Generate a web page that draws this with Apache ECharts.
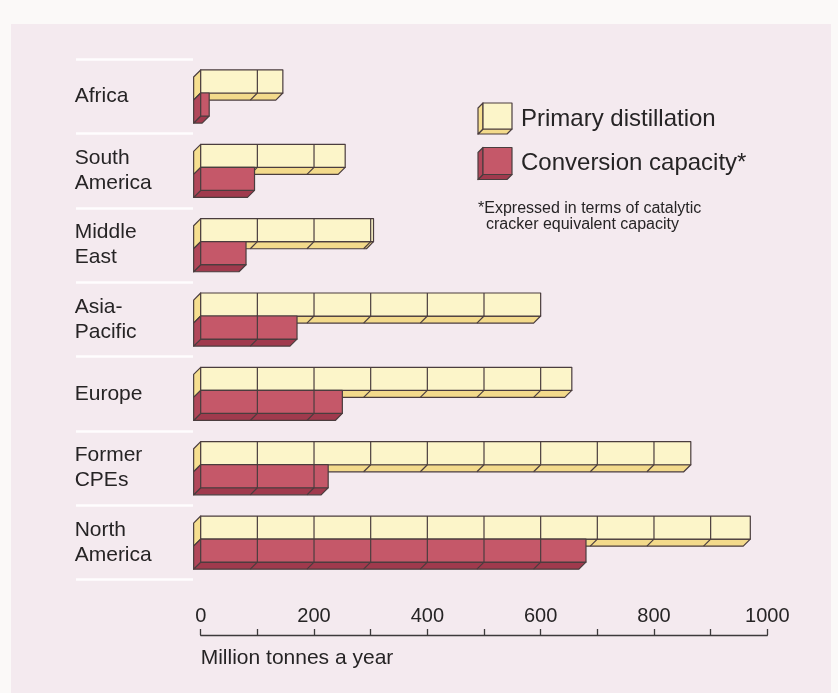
<!DOCTYPE html>
<html>
<head>
<meta charset="utf-8">
<script src="https://cdn.jsdelivr.net/npm/echarts@6/dist/echarts.min.js"></script>
<style>
  html, body { margin: 0; padding: 0; background: #fbf9f8; }
  #chart { width: 838px; height: 693px; }
</style>
</head>
<body>
<div id="chart"></div>
<script>
// Refining capacity by region, million tonnes a year
const regions = ['Africa', 'South\nAmerica', 'Middle\nEast', 'Asia-\nPacific', 'Europe', 'Former\nCPEs', 'North\nAmerica'];
const primaryDistillation = [145, 255, 305, 600, 655, 865, 970];
const conversionCapacity = [15, 95, 80, 170, 250, 225, 680];
const xTickLabels = [0, 200, 400, 600, 800, 1000];
const blockSize = 100; // each box is split into 100-tonne blocks

const FONT = '"Liberation Sans", Arial, Helvetica, sans-serif';
const TEXT = '#262425';
const EDGE = '#4a3d3e';

const yellow = { front: '#fcf5c9', bottom: '#f3da8b', side: '#f6df90' };
const red = { front: '#c55869', bottom: '#a03a4d', side: '#b1475a' };

// Draws a 3D block bar: front face, bottom face and left face seen from below-left
function blockBar(colors, topShift) {
  return function (params, api) {
    const cat = api.value(1);
    const val = api.value(0);
    const origin = api.coord([0, cat]);
    const end = api.coord([val, cat]);
    const band = api.size([0, 1])[1];
    const faceH = band * 0.31;
    const d = band * 0.095;
    const x0 = origin[0], x1 = end[0];
    const yt = origin[1] + band * topShift;
    const yb = yt + faceH;
    const edge = { stroke: EDGE, lineWidth: 1.2, lineJoin: 'round' };
    const children = [
      { type: 'polygon', shape: { points: [[x0, yb], [x1, yb], [x1 - d, yb + d], [x0 - d, yb + d]] },
        style: Object.assign({ fill: colors.bottom }, edge) },
      { type: 'polygon', shape: { points: [[x0, yt], [x0, yb], [x0 - d, yb + d], [x0 - d, yt + d]] },
        style: Object.assign({ fill: colors.side }, edge) },
      { type: 'rect', shape: { x: x0, y: yt, width: x1 - x0, height: faceH },
        style: Object.assign({ fill: colors.front }, edge) }
    ];
    for (let k = blockSize; k < val; k += blockSize) {
      const xk = api.coord([k, cat])[0];
      children.push({ type: 'line', shape: { x1: xk, y1: yt, x2: xk, y2: yb },
        style: Object.assign({ fill: null }, edge) });
      children.push({ type: 'line', shape: { x1: xk, y1: yb, x2: xk - d, y2: yb + d },
        style: Object.assign({ fill: null }, edge) });
    }
    return { type: 'group', children: children };
  };
}

// Small 3D block used as a legend key
function legendBlock(x, y, w, h, d, colors) {
  const edge = { stroke: EDGE, lineWidth: 1.2, lineJoin: 'round' };
  return {
    type: 'group',
    children: [
      { type: 'polygon', shape: { points: [[x, y + h], [x + w, y + h], [x + w - d, y + h + d], [x - d, y + h + d]] },
        style: Object.assign({ fill: colors.bottom }, edge) },
      { type: 'polygon', shape: { points: [[x, y], [x, y + h], [x - d, y + h + d], [x - d, y + d]] },
        style: Object.assign({ fill: colors.side }, edge) },
      { type: 'rect', shape: { x: x, y: y, width: w, height: h },
        style: Object.assign({ fill: colors.front }, edge) }
    ]
  };
}

const chart = echarts.init(document.getElementById('chart'), null, { renderer: 'canvas' });

const gridTop = 59.3, gridHeight = 520.4;

chart.setOption({
  animation: false,
  backgroundColor: '#fbf9f8',
  textStyle: { fontFamily: FONT },
  graphic: [
    { type: 'rect', z: -10, silent: true, shape: { x: 11, y: 24, width: 820, height: 669 },
      style: { fill: '#f4eaef' } },
    legendBlock(483, 103, 29, 26, 5, yellow),
    legendBlock(483, 147.5, 29, 27, 5, red),
    { type: 'text', x: 521, y: 119.5, style: { text: 'Primary distillation', font: '24px ' + FONT,
      fill: TEXT, verticalAlign: 'middle' } },
    { type: 'text', x: 521, y: 163.5, style: { text: 'Conversion capacity*', font: '24px ' + FONT,
      fill: TEXT, verticalAlign: 'middle' } },
    { type: 'text', x: 478, y: 209, style: { text: '*Expressed in terms of catalytic', font: '16px ' + FONT,
      fill: TEXT, verticalAlign: 'middle' } },
    { type: 'text', x: 486, y: 225, style: { text: 'cracker equivalent capacity', font: '16px ' + FONT,
      fill: TEXT, verticalAlign: 'middle' } }
  ],
  grid: [
    { left: 200.7, right: 70.7, top: gridTop, height: gridHeight },
    { left: 76, width: 117, top: gridTop, height: gridHeight }
  ],
  xAxis: [
    {
      gridIndex: 0,
      type: 'value',
      min: 0,
      max: 1000,
      interval: 100,
      position: 'bottom',
      offset: 55.3,
      axisLine: { show: true, lineStyle: { color: '#3c3a3b', width: 1.3 } },
      axisTick: { show: true, inside: true, length: 6, lineStyle: { color: '#3c3a3b', width: 1.3 } },
      axisLabel: {
        inside: true,
        margin: 9,
        fontSize: 20,
        color: TEXT,
        fontFamily: FONT,
        formatter: function (v) { return xTickLabels.indexOf(v) >= 0 ? String(v) : ''; }
      },
      splitLine: { show: false },
      name: 'Million tonnes a year',
      nameLocation: 'start',
      nameGap: 0,
      nameTextStyle: { fontSize: 21, color: TEXT, fontFamily: FONT, align: 'left',
        verticalAlign: 'top', padding: [13, 0, 0, 0] }
    },
    { gridIndex: 1, type: 'value', show: false, min: 0, max: 1 }
  ],
  yAxis: [
    {
      gridIndex: 0,
      type: 'category',
      data: regions,
      inverse: true,
      axisLine: { show: false },
      axisTick: { show: false },
      splitLine: { show: false },
      axisLabel: { align: 'left', margin: 126, fontSize: 21, lineHeight: 25, color: TEXT, fontFamily: FONT }
    },
    {
      gridIndex: 1,
      type: 'category',
      data: regions,
      inverse: true,
      axisLine: { show: false },
      axisTick: { show: false },
      axisLabel: { show: false },
      splitLine: { show: true, lineStyle: { color: '#ffffff', width: 2.5, opacity: 0.9 } }
    }
  ],
  series: [
    {
      name: 'Primary distillation',
      type: 'custom',
      xAxisIndex: 0, yAxisIndex: 0,
      renderItem: blockBar(yellow, -0.3565),
      encode: { x: 0, y: 1 },
      data: primaryDistillation.map(function (v, i) { return [v, i]; }),
      z: 2
    },
    {
      name: 'Conversion capacity*',
      type: 'custom',
      xAxisIndex: 0, yAxisIndex: 0,
      renderItem: blockBar(red, -0.047),
      encode: { x: 0, y: 1 },
      data: conversionCapacity.map(function (v, i) { return [v, i]; }),
      z: 3
    }
  ]
});
</script>
</body>
</html>
